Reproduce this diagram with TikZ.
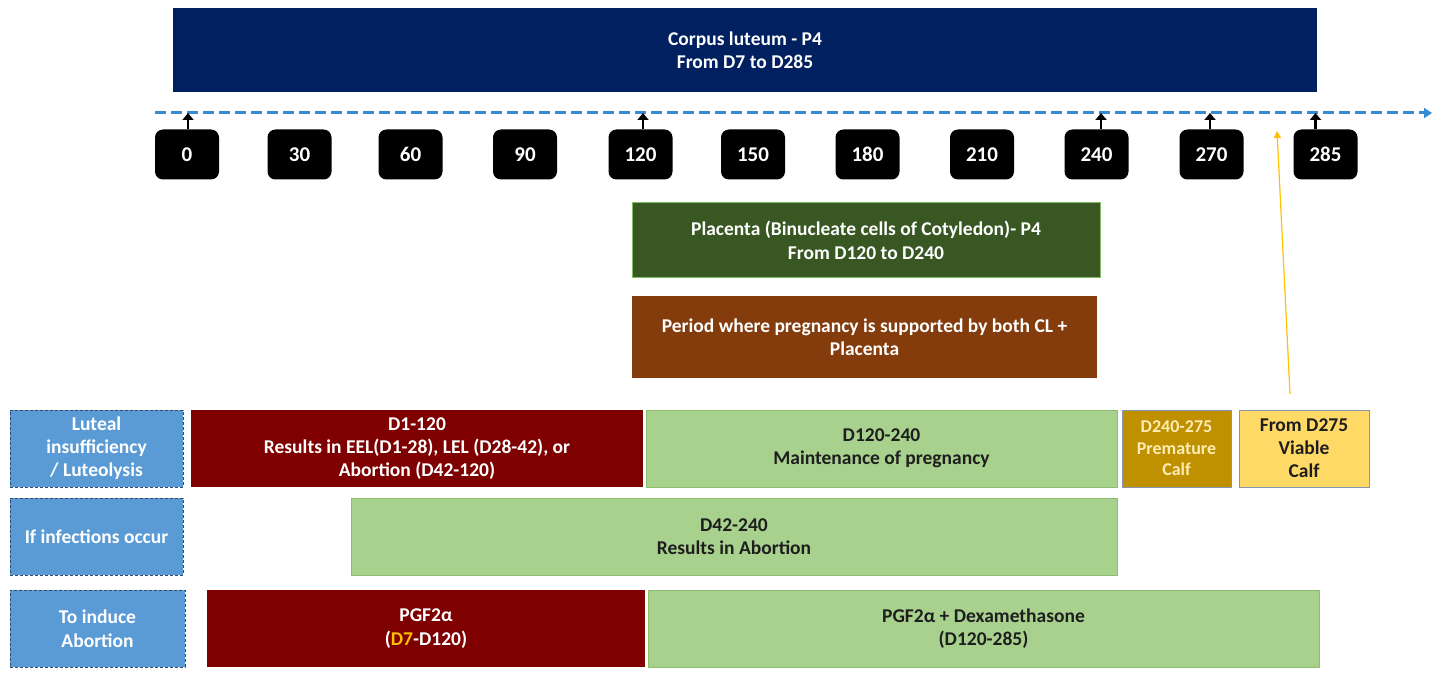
\documentclass[tikz,border=0pt]{standalone}
\usepackage{fontspec}
\setmainfont{Carlito}
\usetikzlibrary{arrows.meta}
\definecolor{navy}{RGB}{0,32,96}
\definecolor{axisblue}{RGB}{52,140,212}
\definecolor{dkgreen}{RGB}{56,87,35}
\definecolor{ltgreenb}{RGB}{130,190,100}
\definecolor{brownbox}{RGB}{132,60,12}
\definecolor{darkred}{RGB}{127,0,0}
\definecolor{ltgreen}{RGB}{169,209,142}
\definecolor{ltgreenedge}{RGB}{140,190,110}
\definecolor{goldbox}{RGB}{191,144,0}
\definecolor{yellowbox}{RGB}{255,217,102}
\definecolor{labblue}{RGB}{91,155,213}
\definecolor{labedge}{RGB}{50,75,115}
\definecolor{greyedge}{RGB}{132,151,176}
\definecolor{yarrowc}{RGB}{255,192,0}
\definecolor{dtext}{RGB}{30,30,30}
\definecolor{paletext}{RGB}{255,236,180}
\begin{document}
\begin{tikzpicture}[x=1pt,y=-1pt,
  box/.style={rectangle, inner sep=0pt, align=center, text=white,
    font=\bfseries\fontsize{19.5}{23.5}\selectfont},
  tick/.style={rectangle, rounded corners=8pt, fill=black, text=white,
    minimum width=64, minimum height=50, inner sep=0pt,
    font=\bfseries\fontsize{21}{24}\selectfont},
  labbox/.style={box, fill=labblue, draw=labedge, densely dashed, line width=1pt,
    minimum height=77},
  greenbox/.style={box, fill=ltgreen, draw=ltgreenedge, line width=1pt, text=dtext,
    minimum height=77},
  redbox/.style={box, fill=darkred, minimum height=77},
  ptr/.style={line width=2.5pt, black, -{Triangle[width=11pt,length=7pt]}},
]
\useasboundingbox (0,0) rectangle (1440,676);

% top box
\node[box, fill=navy, minimum width=1144, minimum height=84] (cl) at (745,50)
  {Corpus luteum - P4\\From D7 to D285};

% axis
\coordinate (axs) at (155,113);
\coordinate (axe) at (1432,113);
\draw[axisblue, line width=3pt, dash pattern=on 11pt off 5pt,
  -{Triangle[width=10pt,length=8pt]}] (axs) -- (axe);

% ticks
\node[tick] (t0) at (187,154.5) {0};
\node[tick] (t30) at (299.5,154.5) {30};
\node[tick] (t60) at (410.5,154.5) {60};
\node[tick] (t90) at (525,154.5) {90};
\node[tick] (t120) at (640.5,154.5) {120};
\node[tick] (t150) at (753,154.5) {150};
\node[tick] (t180) at (867.5,154.5) {180};
\node[tick] (t210) at (982,154.5) {210};
\node[tick] (t240) at (1096.5,154.5) {240};
\node[tick] (t270) at (1211.5,154.5) {270};
\node[tick] (t285) at (1325.5,154.5) {285};

\draw[ptr] ([xshift=1pt]t0.north) -- ([xshift=1pt]t0.north |- axs);
\draw[ptr] ([xshift=2.5pt]t120.north) -- ([xshift=2.5pt]t120.north |- axs);
\draw[ptr] ([xshift=4.5pt]t240.north) -- ([xshift=4.5pt]t240.north |- axs);
\draw[ptr] ([xshift=-1.5pt]t270.north) -- ([xshift=-1.5pt]t270.north |- axs);
\draw[ptr] ([xshift=-10pt]t285.north) -- ([xshift=-10pt]t285.north |- axs);

% placenta boxes
\node[box, fill=dkgreen, draw=ltgreenb, line width=1pt, minimum width=468, minimum height=75]
  (pl) at (866,240.5) {Placenta (Binucleate cells of Cotyledon)- P4\\From D120 to D240};
\node[box, fill=brownbox, minimum width=465, minimum height=82]
  (both) at (864.5,337) {Period where pregnancy is supported by both CL +\\Placenta};

% row 1
\node[labbox, minimum width=173, font=\bfseries\fontsize{19.5}{23}\selectfont] (lab1) at (96.5,448.5) {Luteal\\insufficiency\\/ Luteolysis};
\node[redbox, minimum width=452, font=\bfseries\fontsize{19.5}{23}\selectfont] (el) at (417,448.5)
  {D1-120\\Results in EEL(D1-28), LEL (D28-42), or\\Abortion (D42-120)};
\node[greenbox, minimum width=471] (mp) at (881.5,448.5) {D120-240\\Maintenance of pregnancy};
\node[box, fill=goldbox, draw=greyedge, line width=1pt, minimum width=109, minimum height=77,
  text=paletext, font=\bfseries\fontsize{18}{21.5}\selectfont]
  (pc) at (1176.5,448.5) {D240-275\\Premature\\Calf};
\node[box, fill=yellowbox, draw=greyedge, line width=1pt, minimum width=130, minimum height=77,
  text=dtext, font=\bfseries\fontsize{19.5}{23}\selectfont] (vc) at (1304,448.5) {From D275\\Viable\\Calf};

% yellow arrow
\coordinate (ys) at (1290,394);
\coordinate (ye) at (1277,131);
\draw[yarrowc, line width=1.2pt, -{Triangle[width=7pt,length=7pt]}] (ys) -- (ye);

% row 2
\node[labbox, minimum width=173] (lab2) at (96.5,536.5) {If infections occur};
\node[greenbox, minimum width=766] (inf) at (734,536.5) {D42-240\\Results in Abortion};

% row 3
\node[labbox, minimum width=175] (lab3) at (97.5,628.5) {To induce\\Abortion};
\node[redbox, minimum width=438] (pg) at (426,628.5)
  {PGF2α\\(\textcolor{yarrowc}{D7}-D120)};
\node[greenbox, minimum width=671] (pgd) at (983.5,628.5)
  {PGF2α + Dexamethasone\\(D120-285)};
\end{tikzpicture}
\end{document}
